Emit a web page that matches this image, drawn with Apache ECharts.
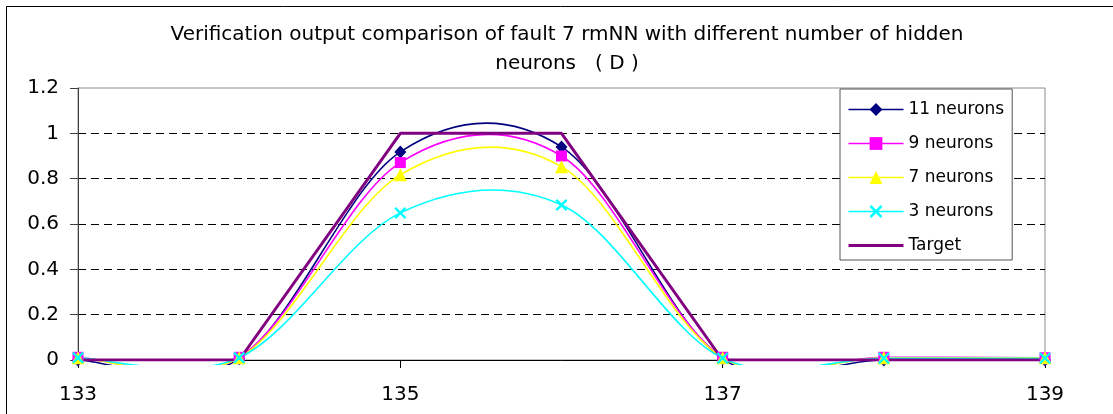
<!DOCTYPE html>
<html>
<head>
<meta charset="utf-8">
<script src="https://cdn.jsdelivr.net/npm/echarts@6/dist/echarts.min.js"></script>
<style>html,body{margin:0;padding:0;background:#fff;}#main{width:1113px;height:414px;}</style>
</head>
<body>
<div id="main"></div>
<script>
const categories = ['133', '134', '135', '136', '137', '138', '139'];
const neurons11 = [0.0, 0.005, 0.918, 0.94, 0.005, 0.0, 0.0];
const neurons9 = [0.012, 0.012, 0.871, 0.90, 0.012, 0.012, 0.01];
const neurons7 = [0.01, 0.01, 0.817, 0.853, 0.01, 0.01, 0.01];
const neurons3 = [0.01, 0.01, 0.649, 0.684, 0.008, 0.008, 0.008];
const target = [0, 0, 1, 1, 0, 0, 0];
const yTicks = { min: 0, max: 1.2, interval: 0.2 };
const titleText = 'Verification output comparison of fault 7 rmNN with different number of hidden\nneurons   ( D )';

const FONT = 'DejaVu Sans';
const xPath = 'path://M0,1.4 L1.4,0 L5,3.6 L8.6,0 L10,1.4 L6.4,5 L10,8.6 L8.6,10 L5,6.4 L1.4,10 L0,8.6 L3.6,5 Z';

// Excel-style smoothed curve (Catmull-Rom, tension 1/6) drawn segment by segment via the axes' coord().
function curveSeries(values, color) {
  const n = values.length;
  return {
    type: 'custom', z: 2, silent: true, clip: false,
    data: values.map(function (v, i) { return [i, v]; }),
    encode: { x: 0, y: 1 },
    renderItem: function (params, api) {
      const i = params.dataIndex;
      if (i >= n - 1) return null;
      const P = function (k) {
        const c = Math.max(0, Math.min(n - 1, k));
        return api.coord([c, values[c]]);
      };
      const p0 = P(i - 1), p1 = P(i), p2 = P(i + 1), p3 = P(i + 2);
      const cs = params.coordSys;
      return {
        type: 'group',
        clipPath: { type: 'rect', shape: { x: cs.x - 2, y: cs.y - 2, width: cs.width + 4, height: cs.height + 7 } },
        children: [{
          type: 'bezierCurve',
          shape: {
            x1: p1[0], y1: p1[1], x2: p2[0], y2: p2[1],
            cpx1: p1[0] + (p2[0] - p0[0]) / 6, cpy1: p1[1] + (p2[1] - p0[1]) / 6,
            cpx2: p2[0] - (p3[0] - p1[0]) / 6, cpy2: p2[1] - (p3[1] - p1[1]) / 6
          },
          style: { stroke: color, lineWidth: 1.6, fill: 'none' }
        }]
      };
    }
  };
}

function markerSeries(name, data, color, symbol, size) {
  return {
    name: name, type: 'line', data: data, z: 3, clip: false,
    symbol: symbol, symbolSize: size,
    lineStyle: { color: color, width: 1.5, opacity: 0 },
    itemStyle: { color: color },
    emphasis: { disabled: true }
  };
}

function legendItem(name, color) {
  return { name: name, lineStyle: { color: color, width: 1.5, opacity: 1 } };
}

const chart = echarts.init(document.getElementById('main'));
chart.setOption({
  animation: false,
  backgroundColor: '#fff',
  title: {
    text: titleText, left: 567, top: 20, padding: 0, textAlign: 'center',
    textStyle: { fontFamily: FONT, fontSize: 20, fontWeight: 'normal', color: '#000', lineHeight: 29 }
  },
  graphic: [{
    type: 'rect', left: 4, top: 4, silent: true,
    shape: { width: 1130, height: 430 },
    style: { fill: 'none', stroke: '#000', lineWidth: 1 }
  }],
  grid: { left: 78, right: 68, top: 88, bottom: 54, show: true, borderColor: '#8c8c8c', borderWidth: 1, backgroundColor: 'transparent' },
  legend: {
    orient: 'vertical', left: 840, top: 89,
    padding: [12, 8, 6, 7], itemGap: 17, itemWidth: 55, itemHeight: 16,
    backgroundColor: '#fff', borderColor: '#555', borderWidth: 1,
    textStyle: { fontFamily: FONT, fontSize: 17, color: '#000' },
    data: [
      legendItem('11 neurons', '#000080'),
      legendItem('9 neurons', '#ff00ff'),
      legendItem('7 neurons', '#ffff00'),
      legendItem('3 neurons', '#00ffff'),
      { name: 'Target', lineStyle: { color: '#800080', width: 3, opacity: 1 }, itemStyle: { opacity: 0 } }
    ]
  },
  xAxis: {
    type: 'category', data: categories, boundaryGap: false,
    axisLine: { lineStyle: { color: '#000', width: 1 } },
    axisTick: { interval: 1, length: 8, lineStyle: { color: '#000' } },
    axisLabel: { interval: 1, margin: 25, fontFamily: FONT, fontSize: 20, color: '#000' },
    splitLine: { show: false }
  },
  yAxis: {
    type: 'value', min: yTicks.min, max: yTicks.max, interval: yTicks.interval,
    axisLine: { show: true, lineStyle: { color: '#404040', width: 1 } },
    axisTick: { show: true, length: 8, lineStyle: { color: '#404040' } },
    axisLabel: { margin: 19, fontFamily: FONT, fontSize: 20, color: '#000' },
    splitLine: { show: true, showMinLine: false, showMaxLine: false, lineStyle: { color: '#000', type: [8, 5], width: 1 } }
  },
  series: [
    curveSeries(neurons11, '#000080'),
    curveSeries(neurons9, '#ff00ff'),
    curveSeries(neurons7, '#ffff00'),
    curveSeries(neurons3, '#00ffff'),
    {
      name: 'Target', type: 'line', data: target, smooth: false, symbol: 'none', z: 2,
      lineStyle: { color: '#800080', width: 3 }, itemStyle: { color: '#800080' },
      emphasis: { disabled: true }
    },
    markerSeries('11 neurons', neurons11, '#000080', 'diamond', [12, 13]),
    markerSeries('9 neurons', neurons9, '#ff00ff', 'rect', 11),
    markerSeries('7 neurons', neurons7, '#ffff00', 'triangle', 13),
    markerSeries('3 neurons', neurons3, '#00ffff', xPath, 12)
  ]
});
</script>
</body>
</html>
